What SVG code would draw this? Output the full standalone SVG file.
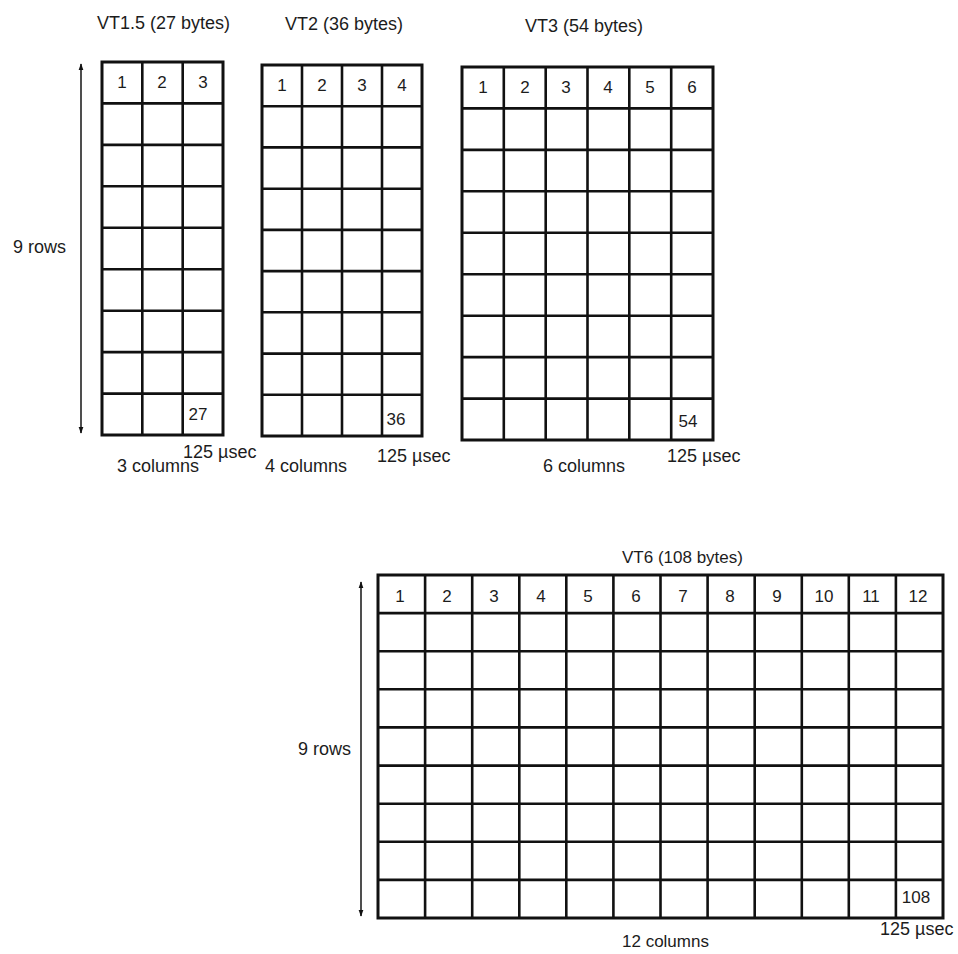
<svg xmlns="http://www.w3.org/2000/svg" width="958" height="954" viewBox="0 0 958 954">
<style>
text{font-family:"Liberation Sans",Arial,sans-serif;fill:#1c1c1c}
.t{font-size:18px}
.n{font-size:17px;text-anchor:middle}
.g{fill:none;stroke:#111;stroke-width:2.6}
.o{fill:none;stroke:#111;stroke-width:3}
.a{stroke:#222;stroke-width:1.6;fill:none}
</style>
<defs>
<marker id="ah" viewBox="0 0 10 10" refX="9" refY="5" markerWidth="7" markerHeight="10" markerUnits="userSpaceOnUse" orient="auto-start-reverse">
<path d="M0,1.5 L10,5 L0,8.5 Z" fill="#111"/>
</marker>
</defs>
<rect width="958" height="954" fill="#fff"/>

<g id="vt15">
<text class="t" x="97" y="29">VT1.5 (27 bytes)</text>
<rect class="o" x="102" y="62" width="121" height="373"/>
<path class="g" d="M142.3,62V435M182.7,62V435M102,103.4H223M102,144.9H223M102,186.3H223M102,227.8H223M102,269.2H223M102,310.7H223M102,352.1H223M102,393.6H223"/>
<text class="n" x="122" y="88">1</text><text class="n" x="162" y="88">2</text><text class="n" x="203" y="88">3</text>
<text class="n" x="198" y="420">27</text>
<text class="t" x="183" y="458">125 µsec</text>
<text class="t" x="117" y="472">3 columns</text>
<text class="t" x="13" y="253">9 rows</text>
</g>

<g id="vt2">
<text class="t" x="285" y="30">VT2 (36 bytes)</text>
<rect class="o" x="262" y="65" width="160" height="371"/>
<path class="g" d="M302,65V436M342,65V436M382,65V436M262,106.2H422M262,147.4H422M262,188.7H422M262,229.9H422M262,271.1H422M262,312.3H422M262,353.6H422M262,394.8H422"/>
<text class="n" x="282" y="91">1</text><text class="n" x="322" y="91">2</text><text class="n" x="362" y="91">3</text><text class="n" x="402" y="91">4</text>
<text class="n" x="396" y="425">36</text>
<text class="t" x="377" y="462">125 µsec</text>
<text class="t" x="265" y="472">4 columns</text>
</g>

<g id="vt3">
<text class="t" x="525" y="32">VT3 (54 bytes)</text>
<rect class="o" x="462" y="67" width="251" height="373"/>
<path class="g" d="M503.8,67V440M545.7,67V440M587.5,67V440M629.3,67V440M671.2,67V440M462,108.4H713M462,149.9H713M462,191.3H713M462,232.8H713M462,274.2H713M462,315.7H713M462,357.1H713M462,398.6H713"/>
<text class="n" x="483" y="93">1</text><text class="n" x="525" y="93">2</text><text class="n" x="566" y="93">3</text><text class="n" x="608" y="93">4</text><text class="n" x="650" y="93">5</text><text class="n" x="692" y="93">6</text>
<text class="n" x="688" y="427">54</text>
<text class="t" x="667" y="462">125 µsec</text>
<text class="t" x="543" y="472">6 columns</text>
</g>

<g id="vt6">
<text class="t" x="622" y="563" style="font-size:17px">VT6 (108 bytes)</text>
<rect class="o" x="378" y="575" width="565" height="343"/>
<path class="g" d="M425.1,575V918M472.2,575V918M519.3,575V918M566.3,575V918M613.4,575V918M660.5,575V918M707.6,575V918M754.7,575V918M801.8,575V918M848.8,575V918M895.9,575V918M378,613.1H943M378,651.2H943M378,689.3H943M378,727.4H943M378,765.6H943M378,803.7H943M378,841.8H943M378,879.9H943"/>
<text class="n" x="400" y="602">1</text><text class="n" x="447" y="602">2</text><text class="n" x="494" y="602">3</text><text class="n" x="541" y="602">4</text><text class="n" x="588" y="602">5</text><text class="n" x="636" y="602">6</text><text class="n" x="683" y="602">7</text><text class="n" x="730" y="602">8</text><text class="n" x="777" y="602">9</text><text class="n" x="824" y="602">10</text><text class="n" x="871" y="602">11</text><text class="n" x="918" y="602">12</text>
<text class="n" x="916" y="903">108</text>
<text class="t" x="880" y="935">125 µsec</text>
<text class="t" x="622" y="947" style="font-size:17px">12 columns</text>
<text class="t" x="298" y="755">9 rows</text>
</g>

<g id="connectors">
<line class="a" x1="81" y1="64" x2="81" y2="433" marker-start="url(#ah)" marker-end="url(#ah)"/>
<line class="a" x1="361" y1="582" x2="361" y2="916" marker-start="url(#ah)" marker-end="url(#ah)"/>
</g>
</svg>
